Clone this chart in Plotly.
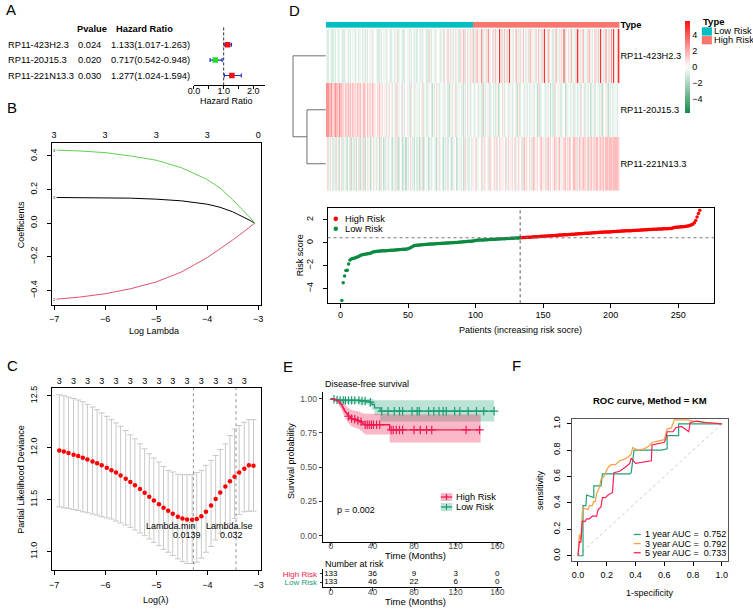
import numpy as np
import plotly.graph_objects as go

W, H = 753, 609
FONT = "Liberation Sans, Arial, Helvetica, sans-serif"


def dom_x(a, b):
    return [a / W, b / W]


def dom_y(top, bottom):
    return [1 - bottom / H, 1 - top / H]


def px(p):
    return p / W


def py(p):
    return 1 - p / H


# ---------------- A: univariate Cox ----------------
genes = ["RP11-423H2.3", "RP11-20J15.3", "RP11-221N13.3"]
cox_p = ["0.024", "0.020", "0.030"]
cox_hr = [1.133, 0.717, 1.277]
cox_low = [1.017, 0.542, 1.024]
cox_high = [1.263, 0.948, 1.594]
cox_rows = [3, 2, 1]

# ---------------- B: LASSO coefficient path ----------------
path_loglam = [-6.95, -6.5, -6.0, -5.5, -5.0, -4.5, -4.0, -3.75, -3.5, -3.3, -3.15, -3.07]
coef_v1 = [0.153, 0.153, 0.152, 0.149, 0.143, 0.133, 0.113, 0.095, 0.068, 0.040, 0.015, 0.0]
coef_v2 = [-0.452, -0.440, -0.420, -0.390, -0.350, -0.290, -0.205, -0.155, -0.100, -0.055, -0.020, 0.0]
coef_v3 = [0.435, 0.430, 0.420, 0.400, 0.375, 0.330, 0.260, 0.210, 0.140, 0.080, 0.030, 0.0]
path_df_at = [-7, -6, -5, -4, -3]
path_df = [3, 3, 3, 3, 0]

# ---------------- C: cross validation ----------------
cv_loglam = [-6.90, -6.81, -6.72, -6.62, -6.53, -6.44, -6.35, -6.25, -6.16, -6.07,
             -5.97, -5.88, -5.79, -5.70, -5.60, -5.51, -5.42, -5.32, -5.23, -5.14,
             -5.05, -4.95, -4.86, -4.77, -4.68, -4.58, -4.49, -4.40, -4.30, -4.21,
             -4.12, -4.03, -3.93, -3.84, -3.75, -3.65, -3.56, -3.47, -3.38, -3.28,
             -3.19, -3.10]
cv_mean = [11.973, 11.964, 11.948, 11.932, 11.919, 11.903, 11.887, 11.868, 11.849, 11.830,
           11.807, 11.782, 11.760, 11.731, 11.702, 11.670, 11.638, 11.603, 11.565, 11.527,
           11.491, 11.456, 11.421, 11.392, 11.364, 11.335, 11.319, 11.309, 11.306, 11.313,
           11.341, 11.383, 11.443, 11.507, 11.568, 11.626, 11.677, 11.721, 11.760, 11.798,
           11.830, 11.826]
cv_upper = [12.510, 12.500, 12.487, 12.474, 12.459, 12.443, 12.417, 12.391, 12.366, 12.334,
            12.302, 12.270, 12.238, 12.206, 12.165, 12.123, 12.085, 12.037, 11.989, 11.941,
            11.900, 11.862, 11.820, 11.782, 11.766, 11.744, 11.740, 11.740, 11.740, 11.760,
            11.782, 11.830, 11.878, 11.925, 11.983, 12.037, 12.117, 12.181, 12.213, 12.245,
            12.270, 12.270]
cv_lower = [11.431, 11.421, 11.415, 11.405, 11.396, 11.383, 11.373, 11.361, 11.351, 11.335,
            11.325, 11.313, 11.293, 11.274, 11.255, 11.233, 11.207, 11.179, 11.153, 11.121,
            11.089, 11.057, 11.022, 10.993, 10.962, 10.930, 10.904, 10.885, 10.885, 10.898,
            10.936, 10.993, 11.048, 11.112, 11.175, 11.223, 11.271, 11.319, 11.357, 11.383,
            11.389, 11.389]
cv_nzero = [3] * 42
lambda_min = 0.0139
lambda_1se = 0.032

# ---------------- D: risk score + heatmap ----------------
risk_score = [
    -5.05, -3.50, -2.90, -2.42, -2.40, -1.85, -1.50, -1.42, -1.38, -1.35,
    -1.32, -1.28, -1.22, -1.15, -1.10, -1.06, -1.03, -1.00, -0.98, -0.96,
    -0.94, -0.92, -0.88, -0.82, -0.78, -0.76, -0.75, -0.74, -0.73, -0.72,
    -0.71, -0.70, -0.70, -0.69, -0.68, -0.67, -0.66, -0.66, -0.65, -0.64,
    -0.63, -0.62, -0.61, -0.60, -0.59, -0.58, -0.57, -0.56, -0.55, -0.53,
    -0.48, -0.42, -0.35, -0.28, -0.24, -0.22, -0.21,
    -0.20, -0.19, -0.18, -0.17, -0.16, -0.15, -0.14, -0.13, -0.12, -0.11,
    -0.11, -0.10, -0.09, -0.08, -0.07, -0.07, -0.06, -0.05, -0.04, -0.04,
    -0.03, -0.02, -0.02,
    -0.01, 0.00, 0.01, 0.02, 0.03, 0.03, 0.04, 0.05, 0.06, 0.07,
    0.08, 0.09, 0.10, 0.11, 0.12, 0.13, 0.14, 0.16, 0.18, 0.20,
    0.22, 0.23, 0.23, 0.24, 0.25, 0.25, 0.26, 0.27, 0.27, 0.28,
    0.29, 0.29, 0.30, 0.31, 0.31, 0.32, 0.33, 0.33, 0.34, 0.35,
    0.35, 0.36, 0.37, 0.37, 0.38, 0.39, 0.39, 0.40, 0.41, 0.41,
    0.42, 0.42, 0.43,
    0.44, 0.45, 0.45, 0.46, 0.47, 0.48, 0.49, 0.49, 0.50, 0.51,
    0.52, 0.53, 0.53, 0.54, 0.55, 0.56, 0.57, 0.57, 0.58, 0.59,
    0.60, 0.61, 0.62, 0.62, 0.63, 0.64, 0.65,
    0.66, 0.67, 0.67, 0.68, 0.69, 0.70, 0.71, 0.71, 0.72, 0.73,
    0.74, 0.75, 0.75, 0.76, 0.77, 0.78, 0.79, 0.79, 0.80, 0.81,
    0.82, 0.83, 0.83, 0.84, 0.85, 0.86, 0.87, 0.87, 0.88, 0.89,
    0.90, 0.91, 0.91, 0.92, 0.93, 0.93, 0.94, 0.95, 0.95, 0.96,
    0.97, 0.98, 0.98, 0.99, 1.00, 1.00, 1.01, 1.02, 1.02, 1.03,
    1.04, 1.04, 1.05, 1.06, 1.06, 1.07, 1.08, 1.08, 1.09, 1.10,
    1.10, 1.11, 1.12, 1.12, 1.13, 1.14, 1.14, 1.15, 1.16, 1.16,
    1.17, 1.18, 1.18, 1.19, 1.20, 1.20, 1.21, 1.21, 1.22, 1.22,
    1.23, 1.23, 1.24, 1.24, 1.25,
    1.30, 1.33, 1.35, 1.36, 1.37, 1.38, 1.39, 1.40, 1.41, 1.42,
    1.44, 1.46, 1.48, 1.52, 1.57, 1.64, 1.75, 1.95, 2.25, 2.55, 2.85]
n_low = 133
group_names = ["Low Risk", "High Risk"]

# heatmap expression levels, one letter per patient (sorted by risk score)
level_code = {"a": -4.0, "b": -3.0, "c": -1.6, "d": -0.9, "e": -0.4, "f": 0.0,
              "g": 0.45, "h": 1.0, "i": 1.6, "j": 2.6, "k": 5.0}
expr_423H2 = ["eddfeddedf", "edefeddgfe", "dedfeedefd", "eefdgdedfe", "egdefeddde",
              "dfeedgfedd", "efdehdefed", "ddfegdedfe", "dedfedgdef", "eddhgdfeed",
              "efedgedhfe", "hedgehfdge", "dhgeihdfhe", "hgd",
              "igdhiegjhd", "eghdjgfdhe", "igefkhdgie", "dhgkegdfhi", "edgheifdge",
              "hdigegdhfi", "egdhkgedih", "fedghieedg", "hejdgfhedi", "gedhkiedgh",
              "iegdhigedf", "hdgiekhedg", "iedhgjekhe", "ikk"]
expr_20J15 = ["jjjiijhiji", "ihjiihgihh", "ihigihhgih", "higgihfigh", "hgihgfhgig",
              "ghfgdgehfg", "dfehdgefdh", "edfgedhdfe", "dgeedfgdhe", "edegfdcedf",
              "hedefegdef", "dcegdfehde", "efdgcedfhe", "def",
              "edefgdedhc", "edfegdefde", "dgecdfhede", "fedgedefgd", "cehdfedegd",
              "fdeegdfecd", "hdefedgedf", "cedhdfeegd", "defcdgefde", "edgfdeehdf",
              "edegdfcdeg", "dfeedgdcef", "gdcedfdgee", "dfe"]
expr_221N13 = ["fhdehfdgdh", "edcfhdegdc", "fdhcedgcfh", "dcedhcfdge", "cdfhedgecd",
               "hfcdegdefd", "cegdhcdfec", "dgcedfhede", "cfdgcdehcd", "fecdgdefed",
               "cgdefdcedg", "dfecdgefcd", "egdfcdhegd", "fdg",
               "gfhdgefhdg", "hefgdhgfeh", "ghdfhgegfh", "dgheghfdhg", "ehgfdhighe",
               "fhgdihgehf", "ghigehdhig", "hfgihdghig", "eghiehgihf", "gihdhgihgh",
               "ihghidhigh", "hiighihhig", "iihiiihiii", "ihi"]
dend_root_height = 2.07
dend_pair_height = 1.19

# ---------------- E: Kaplan-Meier ----------------
km_high_t = [0, 3, 6, 8, 9, 10, 11, 12, 13, 14, 15, 16, 17, 18, 19, 20, 22, 24, 26, 28, 30, 31, 33, 56.5, 144]
km_high_s = [1.0, 0.992, 0.985, 0.970, 0.962, 0.955, 0.940, 0.925, 0.912, 0.900,
             0.890, 0.880, 0.872, 0.866, 0.860, 0.855, 0.850, 0.845, 0.840, 0.832,
             0.824, 0.815, 0.810, 0.772, 0.772]
km_high_lo = [1.0, 0.977, 0.962, 0.942, 0.930, 0.920, 0.900, 0.882, 0.866, 0.852,
              0.840, 0.828, 0.818, 0.810, 0.803, 0.796, 0.790, 0.784, 0.778, 0.768,
              0.759, 0.748, 0.738, 0.680, 0.680]
km_high_up = [1.0, 1.0, 1.0, 0.998, 0.994, 0.990, 0.980, 0.970, 0.960, 0.951,
              0.943, 0.935, 0.929, 0.924, 0.920, 0.916, 0.913, 0.910, 0.906, 0.900,
              0.895, 0.892, 0.890, 0.885, 0.885]
km_high_cens = [17, 20, 23, 26, 29, 33, 35, 37, 39, 41, 44, 47, 58, 60, 63, 66, 69, 80, 86, 92, 97, 130, 143]
km_low_t = [0, 2, 5, 9, 28, 36.5, 39.5, 42, 47.5, 157]
km_low_s = [1.0, 0.996, 0.992, 0.988, 0.984, 0.975, 0.958, 0.934, 0.909, 0.909]
km_low_lo = [1.0, 0.988, 0.977, 0.968, 0.960, 0.945, 0.920, 0.880, 0.833, 0.833]
km_low_up = [1.0, 1.0, 1.0, 1.0, 1.0, 1.0, 0.996, 0.990, 0.990, 0.990]
km_low_cens = [3, 6, 9, 12, 14, 17, 20, 23, 27, 30, 33, 38, 49, 55, 61, 66, 69, 78, 83, 85,
               94, 99, 104, 108, 111, 119, 124, 132, 140, 147, 157]
risk_times = [0, 40, 80, 120, 160]
at_risk_high = [133, 36, 9, 3, 0]
at_risk_low = [133, 46, 22, 6, 0]
km_pvalue = "0.002"

# ---------------- F: time-dependent ROC ----------------
roc_years = [1, 3, 5]
roc_auc = [0.752, 0.792, 0.733]
roc1_fpr = [0, 0.025, 0.035, 0.035, 0.055, 0.06, 0.10, 0.11, 0.11, 0.16, 0.17, 0.19,
            0.36, 0.37, 0.38, 0.39, 0.58, 0.62, 0.62, 0.70, 0.70, 0.80, 0.90, 1.0]
roc1_tpr = [0, 0, 0.0, 0.38, 0.38, 0.46, 0.44, 0.44, 0.53, 0.53, 0.62, 0.62,
            0.62, 0.63, 0.71, 0.80, 0.80, 0.81, 0.91, 0.91, 1.00, 1.00, 1.0, 1.0]
roc3_fpr = [0, 0.005, 0.01, 0.02, 0.025, 0.03, 0.04, 0.07, 0.08, 0.10, 0.11, 0.12, 0.13,
            0.15, 0.16, 0.18, 0.20, 0.21, 0.23, 0.26, 0.29, 0.32, 0.35, 0.37, 0.38, 0.42,
            0.46, 0.49, 0.52, 0.56, 0.59, 0.60, 0.62, 0.65, 0.67, 0.70, 0.76, 0.80, 0.88, 1.0]
roc3_tpr = [0, 0.10, 0.16, 0.12, 0.30, 0.33, 0.36, 0.35, 0.38, 0.38, 0.41, 0.41, 0.47,
            0.52, 0.58, 0.60, 0.65, 0.67, 0.69, 0.69, 0.72, 0.73, 0.75, 0.77, 0.82, 0.80,
            0.81, 0.83, 0.86, 0.87, 0.88, 0.88, 0.96, 0.97, 1.03, 1.03, 1.03, 1.02, 1.01, 1.0]
roc5_fpr = [0, 0.003, 0.01, 0.02, 0.025, 0.03, 0.05, 0.06, 0.08, 0.09, 0.10, 0.13, 0.14,
            0.16, 0.17, 0.19, 0.21, 0.24, 0.245, 0.25, 0.29, 0.32, 0.34, 0.36, 0.37, 0.40,
            0.45, 0.51, 0.515, 0.55, 0.60, 0.61, 0.62, 0.66, 0.68, 0.72, 0.77, 0.78, 0.83, 0.88, 1.0]
roc5_tpr = [0, 0.05, 0.11, 0.10, 0.20, 0.26, 0.26, 0.28, 0.28, 0.29, 0.30, 0.30, 0.35,
            0.37, 0.44, 0.44, 0.46, 0.48, 0.55, 0.63, 0.64, 0.66, 0.68, 0.70, 0.74, 0.70,
            0.71, 0.72, 0.84, 0.85, 0.86, 0.88, 0.94, 0.94, 0.97, 0.98, 0.94, 1.01, 1.02, 1.01, 1.0]
roc_chance = [0, 1]

# ====================================================================
C_HIGH, C_LOW = "#EE1A50", "#1E9C74"
F_HIGH, F_LOW = "rgba(240,30,80,0.32)", "rgba(40,165,125,0.32)"
ROC_COLORS = ["#20A27A", "#F5A03C", "#FF1F55"]
D_LOW, D_HIGH = "#0B8A42", "#FF0000"
TYPE_COLORS = ["#00BFC4", "#F8766D"]
BLACK = "black"

fig = go.Figure()
ann = []
shapes = []


def r_axis(**kw):
    d = dict(showline=True, mirror=True, linecolor=BLACK, linewidth=1, ticks="outside",
             ticklen=4, tickwidth=1, tickcolor=BLACK, showgrid=False, zeroline=False,
             tickfont=dict(size=9, color=BLACK), fixedrange=True)
    d.update(kw)
    return d


def label(text, x, y, size=9, angle=0, anchor="center", bold=False, color=BLACK, xref="paper",
          yref="paper", xshift=0):
    ann.append(dict(text=("<b>%s</b>" % text) if bold else text, x=x, y=y, xref=xref, yref=yref,
                    showarrow=False, textangle=angle, xanchor=anchor, yanchor="middle",
                    font=dict(size=size, color=color, family=FONT), xshift=xshift, borderpad=0))


def key_dot(x, y, color, r=2.3):
    shapes.append(dict(type="circle", xref="paper", yref="paper", x0=px(x - r), x1=px(x + r),
                       y0=py(y + r), y1=py(y - r), fillcolor=color, line=dict(width=0)))


def key_line(x0, x1, y, color, width=1.3):
    shapes.append(dict(type="line", xref="paper", yref="paper", x0=px(x0), x1=px(x1), y0=py(y), y1=py(y),
                       line=dict(color=color, width=width)))


def key_rect(x0, y0, x1, y1, color):
    shapes.append(dict(type="rect", xref="paper", yref="paper", x0=px(x0), x1=px(x1), y0=py(y1), y1=py(y0),
                       fillcolor=color, line=dict(width=0)))


def key_vline(x, y0, y1, color, width=1.2):
    shapes.append(dict(type="line", xref="paper", yref="paper", x0=px(x), x1=px(x), y0=py(y0), y1=py(y1),
                       line=dict(color=color, width=width)))


# ---------- A ----------
fig.add_trace(go.Scatter(
    x=cox_hr, y=cox_rows, mode="markers", xaxis="x", yaxis="y", showlegend=False,
    marker=dict(symbol="square", size=5.5,
                color=["#EE1111" if h > 1 else "#22DD22" for h in cox_hr]),
    error_x=dict(type="data", symmetric=False,
                 array=[h - v for h, v in zip(cox_high, cox_hr)],
                 arrayminus=[v - l for v, l in zip(cox_hr, cox_low)],
                 color="#2233CC", thickness=1.2, width=2)))
shapes.append(dict(type="line", xref="x", yref="y domain", x0=1, x1=1, y0=0, y1=1,
                   line=dict(color="#333", width=1, dash="3px,2px")))
label("Pvalue", px(71), 4.0, size=9.3, anchor="left", bold=True, yref="y")
label("Hazard Ratio", px(110), 4.0, size=9.3, anchor="left", bold=True, yref="y")
for g, p, h, lo, hi, r in zip(genes, cox_p, cox_hr, cox_low, cox_high, cox_rows):
    label(g, px(1), r, size=9.3, anchor="left", yref="y")
    label(p, px(71.5), r, size=9.3, anchor="left", yref="y")
    label("%.3f(%.3f-%.3f)" % (h, lo, hi), px(105), r, size=9.3, anchor="left", yref="y")
label("Hazard Ratio", px(223), py(100), size=9)

# ---------- B ----------
for vals, col, lab in [(coef_v1, "#000000", "1"), (coef_v2, "#DF536B", "2"), (coef_v3, "#61D04F", "3")]:
    fig.add_trace(go.Scatter(x=path_loglam, y=vals, mode="lines", xaxis="x2", yaxis="y2",
                             line=dict(color=col, width=1), showlegend=False))
    ann.append(dict(text=lab, x=path_loglam[0], y=vals[0], xref="x2", yref="y2", showarrow=False,
                    font=dict(size=4, color=BLACK, family=FONT), xshift=-2))
fig.add_trace(go.Scatter(x=path_df_at, y=[None] * len(path_df_at), xaxis="x3", yaxis="y2",
                         showlegend=False, hoverinfo="skip"))
label("Coefficients", px(15), py(224), size=9, angle=-90)
label("Log Lambda", px(150), py(331), size=9)

# ---------- C ----------
fig.add_trace(go.Scatter(
    x=cv_loglam, y=cv_mean, mode="markers", xaxis="x4", yaxis="y4", showlegend=False,
    marker=dict(color="#FF0000", size=4.5),
    error_y=dict(type="data", symmetric=False,
                 array=[u - m for u, m in zip(cv_upper, cv_mean)],
                 arrayminus=[m - l for m, l in zip(cv_mean, cv_lower)],
                 color="#C8C8C8", thickness=1, width=3)))
fig.add_trace(go.Scatter(x=cv_loglam[::3], y=[None] * len(cv_loglam[::3]), xaxis="x5", yaxis="y4",
                         showlegend=False, hoverinfo="skip"))
for lam in (lambda_min, lambda_1se):
    shapes.append(dict(type="line", xref="x4", yref="y4 domain", x0=np.log(lam), x1=np.log(lam),
                       y0=0, y1=1, line=dict(color="#777", width=0.8, dash="dot")))
label("Lambda.min", np.log(lambda_min), 11.242, size=9, xref="x4", yref="y4", xshift=-22)
label("%g" % lambda_min, np.log(lambda_min), 11.156, size=9, xref="x4", yref="y4", xshift=-6)
label("Lambda.lse", np.log(lambda_1se), 11.242, size=9, xref="x4", yref="y4", xshift=-7)
label("%g" % lambda_1se, np.log(lambda_1se), 11.156, size=9, xref="x4", yref="y4", xshift=-5)
label("Partial Likelihood Deviance", px(15), py(480), size=9, angle=-90)
label("Log(λ)", px(152), py(601.5), size=9)

# ---------- D: dendrogram / type bar / heatmap ----------
rh, ph = dend_root_height, dend_pair_height
fig.add_trace(go.Scatter(
    x=[0, rh, None, rh, rh, None, rh, ph, None, ph, ph, None, ph, 0, None, ph, 0],
    y=[0, 0, None, 0, 1.5, None, 1.5, 1.5, None, 1, 2, None, 1, 1, None, 2, 2],
    mode="lines", line=dict(color="#707070", width=1), xaxis="x6", yaxis="y6",
    showlegend=False, hoverinfo="skip"))

n_pat = len(risk_score)
patients = list(range(1, n_pat + 1))
group_code = [0 if i < n_low else 1 for i in range(n_pat)]
fig.add_trace(go.Heatmap(
    z=[group_code], x=patients, y=[0], xaxis="x7", yaxis="y7", showscale=False,
    zmin=0, zmax=1, colorscale=[[0, TYPE_COLORS[0]], [0.5, TYPE_COLORS[0]], [0.5, TYPE_COLORS[1]], [1, TYPE_COLORS[1]]],
    hoverinfo="skip"))


def decode(chunks):
    vals = [level_code[c] for c in "".join(chunks)]
    return (vals + [0.0] * n_pat)[:n_pat]


zexpr = [decode(expr_423H2), decode(expr_20J15), decode(expr_221N13)]
fig.add_trace(go.Heatmap(
    z=zexpr, x=patients, y=[0, 1, 2], xaxis="x8", yaxis="y8", zmin=-5.8, zmax=5.8,
    colorscale=[[0, "#128A48"], [0.5, "#FFFFFF"], [1, "#FF1010"]],
    colorbar=dict(x=px(686.5), xanchor="left", y=py(19), yanchor="top", len=93 / H, lenmode="fraction",
                  thickness=5, outlinewidth=0, ticks="", tickvals=[-4, -2, 0, 2, 4],
                  tickfont=dict(size=9, color=BLACK), xpad=0, ypad=0)))

# Type legend
label("Type", px(703), py(20), size=9.5, anchor="left", bold=True)
for i, (nm, col) in enumerate(zip(group_names, TYPE_COLORS)):
    key_rect(703.3, 25.5 + 8.8 * i, 713.5, 33.8 + 8.8 * i, col)
    label(nm, px(715), py(29.5 + 8.8 * i), size=9.3, anchor="left")

# risk score scatter
low_x, low_y = patients[:n_low], risk_score[:n_low]
high_x, high_y = patients[n_low:], risk_score[n_low:]
fig.add_trace(go.Scatter(x=low_x, y=low_y, mode="markers", xaxis="x9", yaxis="y9", showlegend=False,
                         marker=dict(color=D_LOW, size=3.5)))
fig.add_trace(go.Scatter(x=high_x, y=high_y, mode="markers", xaxis="x9", yaxis="y9", showlegend=False,
                         marker=dict(color=D_HIGH, size=3.5)))
cut = float(np.median(risk_score))
shapes.append(dict(type="line", xref="x9 domain", yref="y9", x0=0, x1=1, y0=cut, y1=cut,
                   line=dict(color="#777", width=1, dash="dot")))
shapes.append(dict(type="line", xref="x9", yref="y9 domain", x0=n_low, x1=n_low, y0=0, y1=1,
                   line=dict(color="#555", width=1, dash="dot")))
for i, (nm, col) in enumerate([("High Risk", D_HIGH), ("Low Risk", D_LOW)]):
    key_dot(333.3, 218.3 + 10 * i, col)
    label(nm, px(341.5), py(218.3 + 10 * i), size=9.3, anchor="left")
label("Risk score", px(297), py(255), size=9, angle=-90)
label("Patients (increasing risk socre)", px(520), py(330), size=9)

# ---------- E: KM ----------


def step_at(ts, ss, t):
    v = ss[0]
    for ti, si in zip(ts, ss):
        if ti <= t:
            v = si
    return v


for fc, t, lo, up in [(F_LOW, km_low_t, km_low_lo, km_low_up), (F_HIGH, km_high_t, km_high_lo, km_high_up)]:
    fig.add_trace(go.Scatter(x=t, y=lo, mode="lines", line=dict(width=0, shape="hv"),
                             xaxis="x10", yaxis="y10", showlegend=False, hoverinfo="skip"))
    fig.add_trace(go.Scatter(x=t, y=up, mode="lines", line=dict(width=0, shape="hv"), fill="tonexty",
                             fillcolor=fc, xaxis="x10", yaxis="y10", showlegend=False, hoverinfo="skip"))
for col, t, s, cens in [(C_LOW, km_low_t, km_low_s, km_low_cens), (C_HIGH, km_high_t, km_high_s, km_high_cens)]:
    fig.add_trace(go.Scatter(x=t, y=s, mode="lines", line=dict(color=col, width=1.3, shape="hv"),
                             xaxis="x10", yaxis="y10", showlegend=False))
    fig.add_trace(go.Scatter(x=cens, y=[step_at(t, s, c) for c in cens], mode="markers",
                             marker=dict(symbol="cross-thin-open", size=6, color=col,
                                         line=dict(color=col, width=1.2)),
                             xaxis="x10", yaxis="y10", showlegend=False, hoverinfo="skip"))
for i, (nm, col, fc) in enumerate([("High Risk", C_HIGH, F_HIGH), ("Low Risk", C_LOW, F_LOW)]):
    yy = 498.3 + 10 * i
    key_rect(439.5, yy - 4, 451, yy + 4, fc)
    key_line(439.5, 451, yy, col)
    key_vline(445.2, yy - 3, yy + 3, col)
    label(nm, px(454), py(yy), size=9.3, anchor="left")
ann.append(dict(text="Disease-free survival", xref="x10 domain", yref="paper", x=0, y=py(385),
                xanchor="left", yanchor="middle", showarrow=False, font=dict(size=9, color=BLACK, family=FONT)))
label("p = %s" % km_pvalue, 5, 0.19, size=9, anchor="left", xref="x10", yref="y10")
label("Survival probability", px(288), py(462), size=9, angle=-90)
label("Time (Months)", px(414), py(557.5), size=9.5)

# risk table
fig.add_trace(go.Scatter(x=risk_times + risk_times, y=[2] * len(risk_times) + [1] * len(risk_times),
                         text=[str(v) for v in at_risk_high + at_risk_low], mode="text",
                         textfont=dict(size=8, color=BLACK, family=FONT),
                         xaxis="x11", yaxis="y11", showlegend=False, hoverinfo="skip"))
ann.append(dict(text="Number at risk", xref="x11 domain", yref="paper", x=0, y=py(565.5),
                xanchor="left", yanchor="middle", showarrow=False, font=dict(size=9, color=BLACK, family=FONT)))
label("Time (Months)", px(414), py(603.5), size=9.5)

# ---------- F: ROC ----------
fig.add_trace(go.Scatter(x=roc_chance, y=roc_chance, mode="lines", xaxis="x12", yaxis="y12",
                         line=dict(color="#BBBBBB", width=0.8, dash="dot"), showlegend=False, hoverinfo="skip"))
for i, ((fpr, tpr), yr, auc, col) in enumerate(zip([(roc1_fpr, roc1_tpr), (roc3_fpr, roc3_tpr), (roc5_fpr, roc5_tpr)],
                                                    roc_years, roc_auc, ROC_COLORS)):
    fig.add_trace(go.Scatter(x=fpr, y=tpr, mode="lines", xaxis="x12", yaxis="y12", showlegend=False,
                             line=dict(color=col, width=1.2)))
    yy = 536 + 9.2 * i
    key_line(634.5, 641.5, yy, col)
    label("%d year AUC =  %.3f" % (yr, auc), px(644.5), py(yy), size=9, anchor="left")
ann.append(dict(text="<b>ROC curve, Method = KM</b>", xref="x12 domain", yref="paper", x=0.5, y=py(401),
                xanchor="center", yanchor="middle", showarrow=False, font=dict(size=9.5, color=BLACK, family=FONT)))
label("sensitivity", px(540), py(491), size=9, angle=-90)
label("1-specificity", px(651), py(595), size=9)

# panel letters
for L, x, y in [("A", 5, 8), ("B", 6, 106), ("C", 7, 366), ("D", 292, 9), ("E", 285, 367), ("F", 516, 366)]:
    label(L, px(x), py(y), size=15)

# ---------- layout ----------
KM_AX = dict(showline=True, mirror=False, linecolor=BLACK, linewidth=1, ticks="outside", ticklen=3,
             tickcolor="#333", showgrid=False, zeroline=False, tickfont=dict(size=8.5, color="#4D4D4D"),
             fixedrange=True)
layout = dict(
    width=W, height=H, autosize=False, margin=dict(l=0, r=0, t=0, b=0, pad=0),
    paper_bgcolor="white", plot_bgcolor="white",
    font=dict(family=FONT, color=BLACK), showlegend=False,
    # A
    xaxis=dict(domain=dom_x(190, 262), anchor="y", range=[0, 2.4], showline=True, linecolor=BLACK,
               ticks="outside", ticklen=3, tickcolor=BLACK, tickvals=[0, 0.5, 1, 1.5, 2],
               ticktext=["0.0", "", "1.0", "", "2.0"], tickfont=dict(size=9, color=BLACK),
               ticklabelstandoff=-6, showgrid=False, zeroline=False, fixedrange=True),
    yaxis=dict(domain=dom_y(25, 84), anchor="x", range=[0.355, 4.16], visible=False, fixedrange=True),
    # B
    xaxis2=r_axis(domain=dom_x(46, 258), anchor="y2", range=[-7.05, -2.94], tickvals=[-7, -6, -5, -4, -3],
                  ticklabelstandoff=1),
    yaxis2=r_axis(domain=dom_y(142, 305), anchor="x2", range=[-0.487, 0.477],
                  tickvals=[-0.4, -0.2, 0, 0.2, 0.4], tickformat=".1f", tickangle=-90, ticklabelstandoff=6),
    xaxis3=dict(overlaying="x2", side="top", anchor="y2", range=[-7.05, -2.94], tickvals=path_df_at,
                ticktext=[str(v) for v in path_df], ticks="", showline=False, showgrid=False, zeroline=False,
                tickfont=dict(size=9, color=BLACK), fixedrange=True, ticklabelstandoff=2),
    # C
    xaxis4=r_axis(domain=dom_x(46, 258), anchor="y4", range=[-7.052, -2.948], tickvals=[-7, -6, -5, -4, -3],
                  ticklabelstandoff=2),
    yaxis4=r_axis(domain=dom_y(388.5, 572), anchor="x4", range=[10.82, 12.575],
                  tickvals=[11.0, 11.5, 12.0, 12.5], tickformat=".1f", tickangle=-90, ticklabelstandoff=6),
    xaxis5=dict(overlaying="x4", side="top", anchor="y4", range=[-7.052, -2.948], tickvals=cv_loglam[::3],
                ticktext=[str(v) for v in cv_nzero[::3]], ticks="", showline=False, showgrid=False,
                zeroline=False, tickfont=dict(size=9, color=BLACK), fixedrange=True, ticklabelstandoff=1),
    # D dendrogram
    xaxis6=dict(domain=dom_x(288, 323.3), anchor="y6", range=[2.2, 0], visible=False, fixedrange=True),
    yaxis6=dict(domain=dom_y(27, 190), anchor="x6", range=[2.5, -0.5], visible=False, fixedrange=True),
    # D type bar
    xaxis7=dict(domain=dom_x(323.3, 620), anchor="y7", range=[0.5, n_pat + 0.5], visible=False, fixedrange=True),
    yaxis7=dict(domain=dom_y(20, 26), anchor="x7", range=[-0.5, 0.5], side="right", tickvals=[0],
                ticktext=["<b>Type</b>"], ticks="", showline=False, showgrid=False, zeroline=False,
                tickfont=dict(size=9.3, color=BLACK), fixedrange=True),
    # D heatmap
    xaxis8=dict(domain=dom_x(323.3, 620), anchor="y8", range=[0.5, n_pat + 0.5], visible=False, fixedrange=True),
    yaxis8=dict(domain=dom_y(27, 190), anchor="x8", range=[2.5, -0.5], side="right", tickvals=[0, 1, 2],
                ticktext=genes, ticks="", showline=False, showgrid=False, zeroline=False,
                tickfont=dict(size=9.3, color=BLACK), fixedrange=True),
    # D risk
    xaxis9=r_axis(domain=dom_x(325, 715.7), anchor="y9", range=[-9.6, 276.6], tickvals=[0, 50, 100, 150, 200, 250],
                  ticklabelstandoff=-1),
    yaxis9=r_axis(domain=dom_y(207.7, 303.3), anchor="x9", range=[-5.30, 3.01], tickvals=[-4, -2, 0, 2],
                  tickangle=-90, ticklabelstandoff=6),
    # E KM
    xaxis10=dict(KM_AX, domain=dom_x(320, 501.7), anchor="y10", range=[-7.9, 164.9], tickvals=risk_times,
                 ticklabelstandoff=-8),
    yaxis10=dict(KM_AX, domain=dom_y(392.5, 544), anchor="x10", range=[-0.05, 1.05],
                 tickvals=[0, 0.25, 0.5, 0.75, 1.0], tickformat=".2f"),
    # E table
    xaxis11=dict(KM_AX, domain=dom_x(320, 501.7), anchor="y11", range=[-7.9, 164.9], tickvals=risk_times,
                 ticklabelstandoff=-6),
    yaxis11=dict(KM_AX, domain=dom_y(571, 589), anchor="x11", range=[0.45, 2.55], tickvals=[2, 1],
                 ticktext=['<span style="color:%s">High Risk</span>' % C_HIGH,
                           '<span style="color:%s">Low Risk</span>' % C_LOW],
                 ticklen=2, tickfont=dict(size=8), ticklabelstandoff=1),
    # F ROC
    xaxis12=r_axis(domain=dom_x(572.3, 729.3), anchor="y12", range=[-0.04, 1.04],
                   tickvals=[0, 0.2, 0.4, 0.6, 0.8, 1.0], tickformat=".1f", linecolor="#555", ticklabelstandoff=1),
    yaxis12=r_axis(domain=dom_y(419.3, 562.7), anchor="x12", range=[-0.04, 1.04],
                   tickvals=[0, 0.2, 0.4, 0.6, 0.8, 1.0], tickformat=".1f", tickangle=-90, linecolor="#555",
                   ticklabelstandoff=4),
    annotations=ann, shapes=shapes,
)
fig.update_layout(**layout)
fig.write_html("out.html", config={"responsive": False, "displayModeBar": False},
               post_script="document.body.style.margin='0px';document.body.style.overflow='hidden';")
